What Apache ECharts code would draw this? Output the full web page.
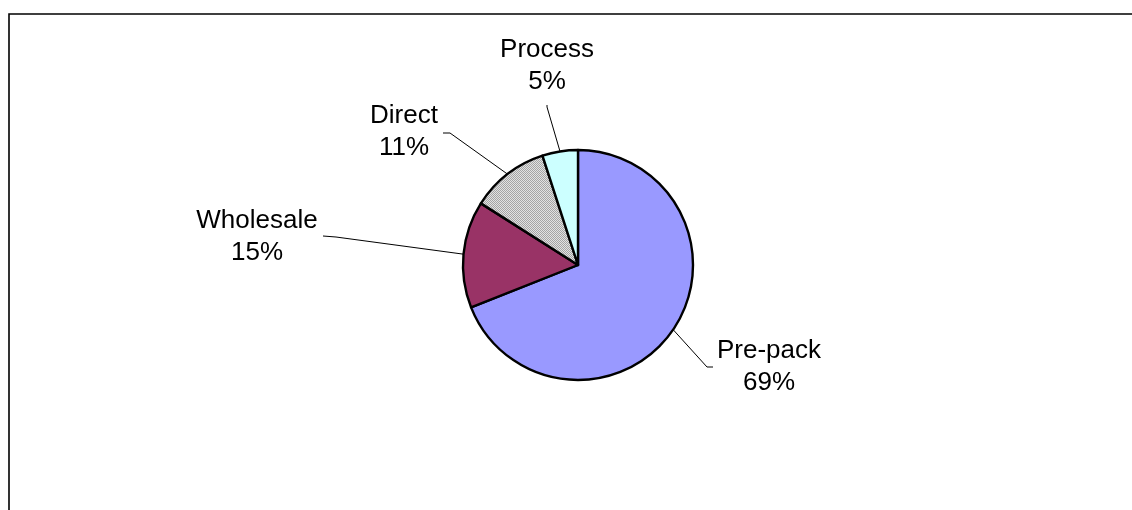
<!DOCTYPE html>
<html>
<head>
<meta charset="utf-8">
<script src="https://cdn.jsdelivr.net/npm/echarts@6/dist/echarts.min.js"></script>
<style>
html,body{margin:0;padding:0;background:#fff;}
#chart{width:1132px;height:510px;}
</style>
</head>
<body>
<div id="chart"></div>
<script>
var categories = ['Pre-pack', 'Wholesale', 'Direct', 'Process'];
var values = [69, 15, 11, 5];
var sliceColors = ['#9999FF', '#993366', 'pattern', '#CCFFFF'];

// label anchor positions (layout only): [textCenterX, textCenterY, elbowX, elbowY, lineEndX, lineEndY]
var labelPlacement = [
  [769, 367, 707, 367, 713, 367],
  [257, 237, 336, 237, 323, 236],
  [404, 132, 450, 133, 443, 133],
  [547, 66, 547, 107, 547, 105]
];

function makePattern() {
  var c = document.createElement('canvas');
  c.width = 2; c.height = 2;
  var ctx = c.getContext('2d');
  ctx.fillStyle = '#e2e2e2'; ctx.fillRect(0, 0, 2, 2);
  ctx.fillStyle = '#a4a4a4'; ctx.fillRect(0, 0, 1, 1); ctx.fillRect(1, 1, 1, 1);
  return c;
}

var chart = echarts.init(document.getElementById('chart'), null, {renderer: 'canvas'});
var pat = makePattern();
var data = categories.map(function (n, i) {
  var col = sliceColors[i] === 'pattern' ? {image: pat, repeat: 'repeat'} : sliceColors[i];
  return {name: n, value: values[i], itemStyle: {color: col}};
});

chart.setOption({
  animation: false,
  backgroundColor: '#fff',
  graphic: [{
    type: 'rect',
    shape: {x: 9, y: 14, width: 1200, height: 600},
    style: {fill: 'none', stroke: '#000', lineWidth: 1.6},
    silent: true
  }],
  series: [{
    type: 'pie',
    center: [578, 265],
    radius: 115,
    startAngle: 90,
    clockwise: true,
    avoidLabelOverlap: false,
    data: data,
    itemStyle: {borderColor: '#000', borderWidth: 2.4},
    label: {
      show: true,
      position: 'outside',
      formatter: function (p) { return p.name + '\n' + Math.round(p.percent) + '%'; },
      fontFamily: '"Liberation Sans", Arial, sans-serif',
      fontSize: 26,
      lineHeight: 32,
      color: '#000',
      align: 'center'
    },
    labelLine: {
      show: true,
      length: 20,
      length2: 10,
      lineStyle: {color: '#000', width: 1}
    },
    labelLayout: function (params) {
      var lp = labelPlacement[params.dataIndex];
      var edge = params.labelLinePoints ? params.labelLinePoints[0] : [lp[2], lp[3]];
      return {
        x: lp[0],
        y: lp[1],
        align: 'center',
        verticalAlign: 'middle',
        labelLinePoints: [edge, [lp[2], lp[3]], [lp[4], lp[5]]]
      };
    },
    emphasis: {disabled: true}
  }]
});
</script>
</body>
</html>
